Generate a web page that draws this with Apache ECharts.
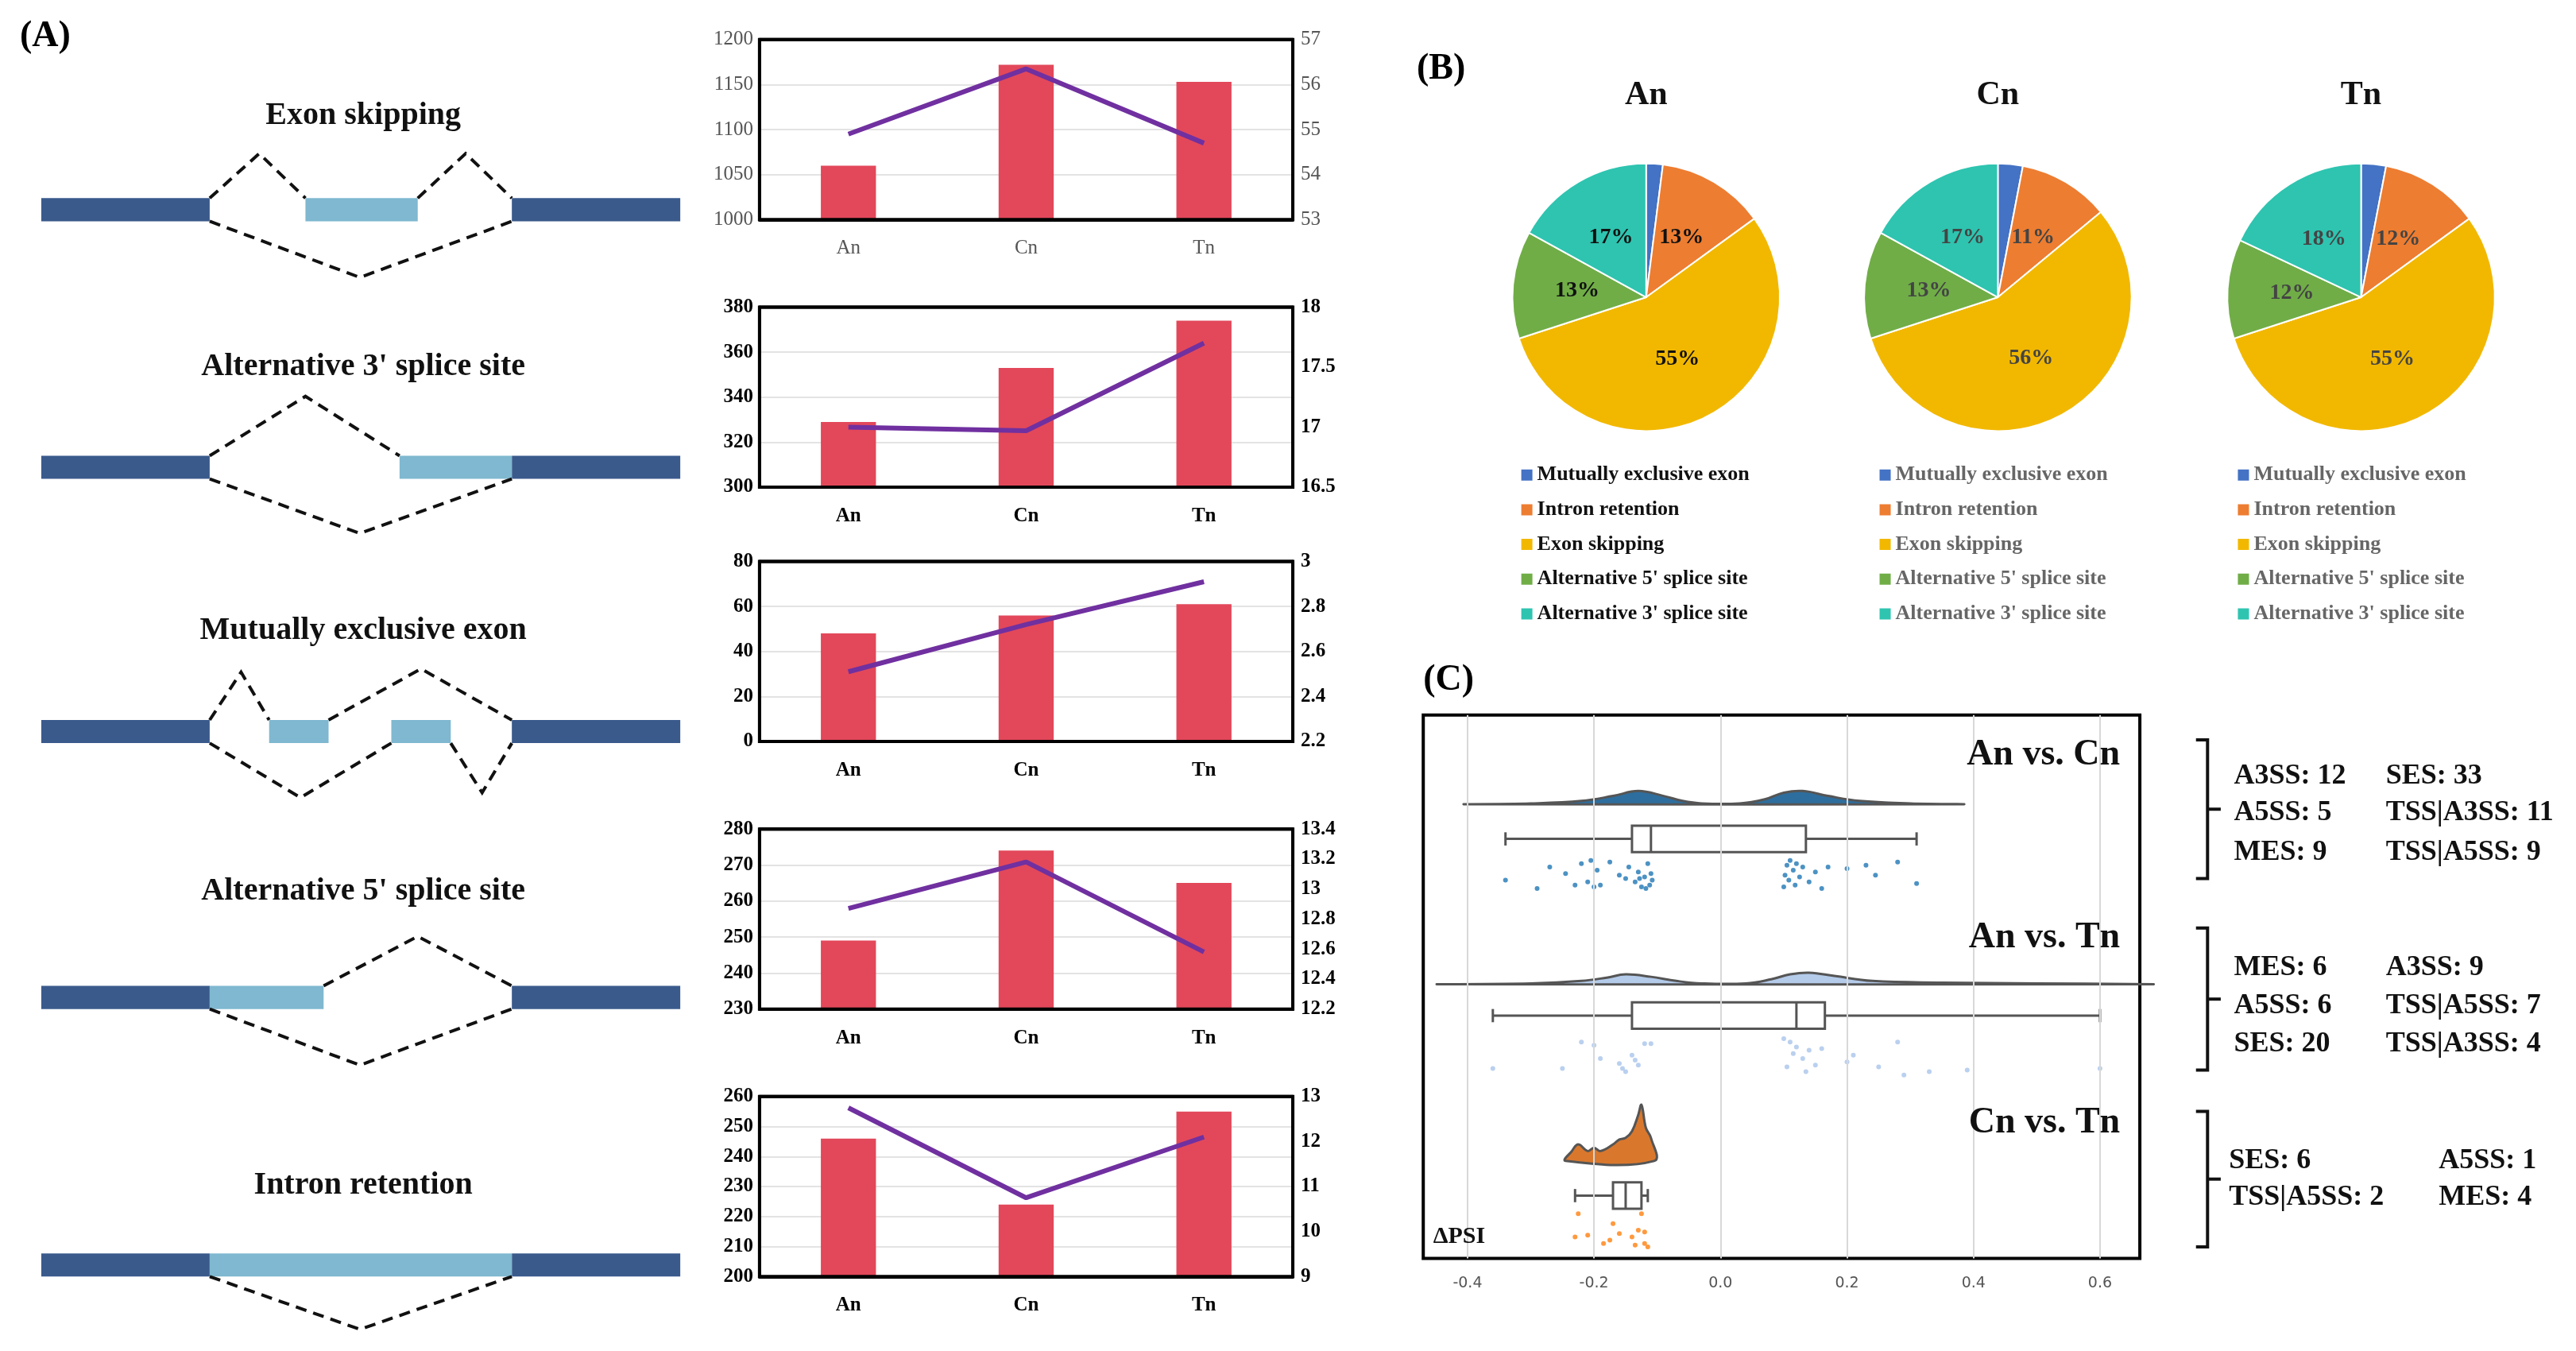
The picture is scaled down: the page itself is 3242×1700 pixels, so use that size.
<!DOCTYPE html>
<html><head><meta charset="utf-8">
<script src="https://cdn.jsdelivr.net/npm/echarts@6/dist/echarts.min.js"></script>
<style>html,body{margin:0;background:#fff}#c{width:3242px;height:1700px}</style>
</head><body><div id="c"></div>
<script>
var k = 2.078;
function P(v) { return v * k; }
var FONT = "Liberation Serif";

// panel A bar/line data
var cats = ["An", "Cn", "Tn"];
var barVals = [[1060, 1172, 1153], [329, 353, 374], [48, 56, 61], [249, 274, 265], [246, 224, 255]];
var lineVals = [[54.9, 56.35, 54.7], [17.0, 16.97, 17.7], [2.51, 2.72, 2.91], [12.87, 13.18, 12.58], [12.75, 10.75, 12.1]];
var leftAxes = [[1000, 1200, 50], [300, 380, 20], [0, 80, 20], [230, 280, 10], [200, 260, 10]];
var rightAxes = [[53, 57, 1], [16.5, 18, 0.5], [2.2, 3, 0.2], [12.2, 13.4, 0.2], [9, 13, 1]];
var eventNames = ["Exon skipping", "Alternative 3' splice site", "Mutually exclusive exon", "Alternative 5' splice site", "Intron retention"];

// panel B pie data
var pieNames = ["Mutually exclusive exon", "Intron retention", "Exon skipping", "Alternative 5' splice site", "Alternative 3' splice site"];
var pieColors = ["#4472C4", "#ED7D31", "#F2B800", "#70AD47", "#2EC4B0"];
var pieGroups = ["An", "Cn", "Tn"];
var pieVals = [[2, 13, 55, 13, 17], [3, 11, 56, 13, 17], [3, 12, 55, 12, 18]];

// panel C data
var cmpNames = ["An vs. Cn", "An vs. Tn", "Cn vs. Tn"];
var cmpColors = ["#1F77B4", "#A9C4EB", "#FF7F0E"];
var densFill = ["#2E6E9E", "#B4CBEA", "#D9782D"];
var densBase = [54, 163, 270];
var densX = [
  [-0.40, -0.30, -0.22, -0.17, -0.13, -0.09, -0.06, -0.03, 0.03, 0.07, 0.10, 0.13, 0.17, 0.22, 0.30, 0.38],
  [-0.44, -0.30, -0.22, -0.18, -0.15, -0.11, -0.07, -0.03, 0.04, 0.08, 0.11, 0.14, 0.18, 0.24, 0.35, 0.5, 0.675],
  [-0.245, -0.235, -0.225, -0.21, -0.2, -0.19, -0.17, -0.16, -0.15, -0.14, -0.13, -0.125, -0.118, -0.11, -0.105]
];
var densH = [
  [0, 0.5, 2, 5, 8, 5, 2, 0.5, 0.5, 3, 7, 8, 5, 2, 0.5, 0],
  [0, 0.5, 2, 4, 6, 4.5, 2, 0.5, 0.5, 3, 6, 7, 5, 2, 1, 0.5, 0],
  [0, 6, 10, 6, 8, 6, 10, 13, 14, 18, 28, 34, 20, 14, 0]
];
// [y, low, q1, median, q3, high]
var boxes = [[75, -0.34, -0.14, -0.11, 0.135, 0.31], [182, -0.36, -0.14, 0.12, 0.165, 0.6], [291, -0.23, -0.17, -0.15, -0.125, -0.115]];
var pts = [
  [[-0.34,100],[-0.29,105],[-0.27,92],[-0.245,96],[-0.23,103],[-0.22,90],[-0.21,101],[-0.205,88],[-0.2,104],[-0.195,94],[-0.19,103],[-0.175,89],[-0.16,97],[-0.15,99],[-0.145,92],[-0.135,101],[-0.13,95],[-0.125,104],[-0.12,98],[-0.115,90],[-0.112,103],[-0.11,96],[-0.108,100],[-0.118,105],[-0.128,99],[0.1,104],[0.102,97],[0.105,91],[0.108,100],[0.11,88],[0.115,94],[0.118,103],[0.12,90],[0.125,98],[0.13,92],[0.14,101],[0.15,95],[0.16,105],[0.17,92],[0.2,93],[0.23,91],[0.245,97],[0.28,89],[0.31,102]],
  [[-0.36,214],[-0.25,214],[-0.22,198],[-0.2,200],[-0.19,208],[-0.16,211],[-0.155,214],[-0.15,216],[-0.14,206],[-0.135,209],[-0.13,212],[-0.12,199],[-0.11,199],[0.1,196],[0.105,213],[0.11,198],[0.115,205],[0.12,201],[0.13,208],[0.135,216],[0.14,203],[0.15,212],[0.16,202],[0.2,210],[0.21,206],[0.25,213],[0.28,198],[0.29,218],[0.33,216],[0.39,215],[0.6,214]],
  [[-0.225,302],[-0.23,316],[-0.21,315],[-0.185,320],[-0.175,318],[-0.17,308],[-0.16,314],[-0.14,316],[-0.135,321],[-0.13,312],[-0.125,302],[-0.12,320],[-0.115,322],[-0.12,313]]
];
var xTicks = [-0.4, -0.2, 0.0, 0.2, 0.4, 0.6];
var bracketTexts = [
  [["A3SS: 12", "SES: 33"], ["A5SS: 5", "TSS|A3SS: 11"], ["MES: 9", "TSS|A5SS: 9"]],
  [["MES: 6", "A3SS: 9"], ["A5SS: 6", "TSS|A5SS: 7"], ["SES: 20", "TSS|A3SS: 4"]],
  [["SES: 6", "A5SS: 1"], ["TSS|A5SS: 2", "MES: 4"]]
];

var myChart = echarts.init(document.getElementById("c"), null, { renderer: "canvas" });

var grids = [], xAxes = [], yAxes = [], series = [], graphics = [];
var gridTops = [24, 186, 340, 502, 664];
function plain(v) { return String(v); }

// ---- panel A charts
gridTops.forEach(function (t, i) {
  grids.push({ left: P(460), width: P(323), top: P(t), height: P(109), show: true, borderColor: "#000", borderWidth: 4, z: 3 });
  var lc = i === 0 ? "#555" : "#000", fw = i === 0 ? "normal" : "bold";
  xAxes.push({ type: "category", gridIndex: i, data: cats, axisLine: { show: true, lineStyle: { color: "#000", width: 4 } }, axisTick: { show: false },
    axisLabel: { fontFamily: FONT, fontSize: 25, color: lc, fontWeight: fw, margin: 24 } });
  yAxes.push({ type: "value", gridIndex: i, min: leftAxes[i][0], max: leftAxes[i][1], interval: leftAxes[i][2],
    axisLine: { show: true, lineStyle: { color: "#000", width: 4 } }, axisTick: { show: false },
    axisLabel: { fontFamily: FONT, fontSize: 25, color: lc, fontWeight: fw, margin: 8, formatter: plain },
    splitLine: { showMinLine: false, showMaxLine: false, lineStyle: { color: "#e3e3e3", width: 2 } } });
  yAxes.push({ type: "value", gridIndex: i, position: "right", min: rightAxes[i][0], max: rightAxes[i][1], interval: rightAxes[i][2],
    axisLine: { show: true, lineStyle: { color: "#000", width: 4 } }, axisTick: { show: false }, splitLine: { show: false },
    axisLabel: { fontFamily: FONT, fontSize: 25, color: lc, fontWeight: fw, margin: 10, formatter: plain } });
  series.push({ type: "bar", xAxisIndex: i, yAxisIndex: 2 * i, data: barVals[i], barWidth: "31%",
    itemStyle: { color: "#E2485A" } });
  series.push({ type: "line", xAxisIndex: i, yAxisIndex: 2 * i + 1, data: lineVals[i], symbol: "none",
    lineStyle: { color: "#7030A0", width: 6 } });
  graphics.push({ type: "line", z: 5, shape: { x1: P(460), y1: P(t), x2: P(783), y2: P(t) }, style: { stroke: "#000", lineWidth: 4 } });
});

// ---- panel C grid
var gC = grids.length;
grids.push({ left: P(862), width: P(434), top: P(433), height: P(329), show: true, borderColor: "#000", borderWidth: 4 });
var xC = xAxes.length, yC = yAxes.length;
xAxes.push({ type: "value", gridIndex: gC, min: -0.47, max: 0.663, axisLine: { show: false }, axisTick: { show: false },
  splitLine: { show: false },
  axisLabel: { customValues: xTicks, formatter: function (v) { return v.toFixed(1); }, fontFamily: "DejaVu Sans", fontSize: 19, color: "#555", margin: 22 } });
yAxes.push({ type: "value", gridIndex: gC, min: 0, max: 329, inverse: true, show: false });

series.push({ type: "scatter", xAxisIndex: xC, yAxisIndex: yC, data: [], silent: true,
  markLine: { silent: true, symbol: "none", label: { show: false }, lineStyle: { color: "#d8d8d8", type: "solid", width: 2 },
    data: xTicks.map(function (v) { return { xAxis: v }; }) } });

series.push({ type: "custom", xAxisIndex: xC, yAxisIndex: yC, data: [[0], [1], [2]], silent: true,
  renderItem: function (params, api) {
    var i = params.dataIndex;
    var poly = densX[i].map(function (x, j) { return api.coord([x, densBase[i] - densH[i][j]]); });
    return { type: "polygon", shape: { points: poly, smooth: 0.4 },
      style: { fill: densFill[i], stroke: "#555", lineWidth: 3 } };
  } });

series.push({ type: "custom", xAxisIndex: xC, yAxisIndex: yC, data: boxes, silent: true,
  renderItem: function (params, api) {
    var y = api.value(0), h = P(8);
    var lo = api.coord([api.value(1), y]), q1 = api.coord([api.value(2), y]), md = api.coord([api.value(3), y]),
      q3 = api.coord([api.value(4), y]), hi = api.coord([api.value(5), y]);
    var st = { stroke: "#555", lineWidth: 3, fill: "#fff" };
    return { type: "group", children: [
      { type: "line", shape: { x1: lo[0], y1: lo[1], x2: q1[0], y2: q1[1] }, style: st },
      { type: "line", shape: { x1: q3[0], y1: q3[1], x2: hi[0], y2: hi[1] }, style: st },
      { type: "line", shape: { x1: lo[0], y1: lo[1] - h / 2, x2: lo[0], y2: lo[1] + h / 2 }, style: st },
      { type: "line", shape: { x1: hi[0], y1: hi[1] - h / 2, x2: hi[0], y2: hi[1] + h / 2 }, style: st },
      { type: "rect", shape: { x: q1[0], y: q1[1] - h, width: q3[0] - q1[0], height: 2 * h }, style: st },
      { type: "line", shape: { x1: md[0], y1: md[1] - h, x2: md[0], y2: md[1] + h }, style: st }
    ] };
  } });

pts.forEach(function (d, i) {
  series.push({ type: "scatter", xAxisIndex: xC, yAxisIndex: yC, data: d, symbolSize: 6, silent: true,
    itemStyle: { color: cmpColors[i] } });
});

// ---- panel B pies
var pieCx = [997, 1210, 1430];
var legends = [];
pieGroups.forEach(function (g, i) {
  series.push({ type: "pie", center: [P(pieCx[i]), P(180)], radius: P(81), startAngle: 90,
    data: pieNames.map(function (n, j) { return { name: n, value: pieVals[i][j], itemStyle: { color: pieColors[j] } }; }),
    itemStyle: { borderColor: "#fff", borderWidth: 2 },
    label: { position: "inner", formatter: "{c}%", fontFamily: FONT, fontWeight: "bold", fontSize: 28, color: i === 0 ? "#111" : "#444" },
    labelLine: { show: false }, silent: true });
  graphics.push({ type: "text", x: P(pieCx[i]), y: P(58), style: { text: g, fontFamily: FONT, fontWeight: "bold", fontSize: 42, fill: "#111", align: "center", verticalAlign: "middle" } });
  legends.push({ orient: "vertical", left: P([918, 1135, 1352][i]), top: P(279), itemGap: P(8.5), itemWidth: 16, itemHeight: 16,
    icon: "rect", data: pieNames, selectedMode: false,
    textStyle: { fontFamily: FONT, fontWeight: "bold", fontSize: 26, color: i === 0 ? "#111" : "#666" } });
});

// ---- panel labels
[["(A)", 12, 22], ["(B)", 858, 42], ["(C)", 862, 412]].forEach(function (l) {
  graphics.push({ type: "text", x: P(l[1]), y: P(l[2]), style: { text: l[0], fontFamily: FONT, fontWeight: "bold", fontSize: 46, fill: "#000", verticalAlign: "middle" } });
});

// ---- gene structure diagrams (panel A left)
var DARK = "#3A5A8C", LIGHT = "#7FB8D0";
var exY = [127, 283, 443, 604, 766];
var titleY = [70, 222, 382, 540, 718];
var lightEx = [[[185, 253]], [[242, 310]], [[163, 199], [237, 273]], [[127, 196]], [[127, 310]]];
var dashes = [
  [[[127, 120], [157, 93], [185, 120]], [[253, 120], [282, 93], [310, 120]], [[127, 134], [218, 168], [310, 134]]],
  [[[127, 276], [185, 240], [242, 276]], [[127, 290], [218, 323], [310, 290]]],
  [[[127, 436], [146, 407], [163, 436]], [[199, 436], [255, 405], [310, 436]], [[127, 450], [182, 483], [237, 450]], [[273, 450], [292, 480], [310, 450]]],
  [[[196, 597], [253, 567], [310, 597]], [[127, 611], [218, 645], [310, 611]]],
  [[[127, 773], [218, 805], [310, 773]]]
];
exY.forEach(function (y, i) {
  graphics.push({ type: "text", x: P(220), y: P(titleY[i]), style: { text: eventNames[i], fontFamily: FONT, fontWeight: "bold", fontSize: 40, fill: "#111", align: "center", verticalAlign: "middle" } });
  [[25, 127], [310, 412]].forEach(function (e) {
    graphics.push({ type: "rect", shape: { x: P(e[0]), y: P(y - 7), width: P(e[1] - e[0]), height: P(14) }, style: { fill: DARK } });
  });
  lightEx[i].forEach(function (e) {
    graphics.push({ type: "rect", shape: { x: P(e[0]), y: P(y - 7), width: P(e[1] - e[0]), height: P(14) }, style: { fill: LIGHT } });
  });
  dashes[i].forEach(function (pl) {
    graphics.push({ type: "polyline", shape: { points: pl.map(function (p) { return [P(p[0]), P(p[1])]; }) },
      style: { stroke: "#111", lineWidth: 4, lineDash: [14, 9], fill: null } });
  });
});

// ---- panel C texts
var titleCY = [457, 568, 680];
cmpNames.forEach(function (n, i) {
  graphics.push({ type: "text", x: P(1284), y: P(titleCY[i]), z: 10, style: { text: n, fontFamily: FONT, fontWeight: "bold", fontSize: 46, fill: "#111", align: "right", verticalAlign: "middle" } });
});
graphics.push({ type: "text", x: P(868), y: P(756), z: 10, style: { text: "ΔPSI", fontFamily: FONT, fontWeight: "bold", fontSize: 30, fill: "#111", verticalAlign: "bottom" } });
var brk = [[448, 532], [562, 648], [673, 755]];
var rowY = [[470, 492, 516], [586, 609, 632], [703, 725]];
var colX = [[1353, 1445], [1353, 1445], [1350, 1477]];
brk.forEach(function (b, i) {
  var m = (b[0] + b[1]) / 2;
  graphics.push({ type: "polyline", shape: { points: [[P(1330), P(b[0])], [P(1337), P(b[0])], [P(1337), P(b[1])], [P(1330), P(b[1])]] }, style: { stroke: "#111", lineWidth: 4, fill: null } });
  graphics.push({ type: "line", shape: { x1: P(1337), y1: P(m), x2: P(1345), y2: P(m) }, style: { stroke: "#111", lineWidth: 4 } });
  bracketTexts[i].forEach(function (row, r) {
    row.forEach(function (t, c) {
      graphics.push({ type: "text", x: P(colX[i][c]), y: P(rowY[i][r]), style: { text: t, fontFamily: FONT, fontWeight: "bold", fontSize: 36, fill: "#111", verticalAlign: "middle" } });
    });
  });
});

var option = {
  backgroundColor: "#fff",
  animation: false,
  grid: grids, xAxis: xAxes, yAxis: yAxes, series: series, legend: legends,
  graphic: { elements: graphics }
};
myChart.setOption(option);
window.addEventListener("resize", myChart.resize);
</script></body></html>
